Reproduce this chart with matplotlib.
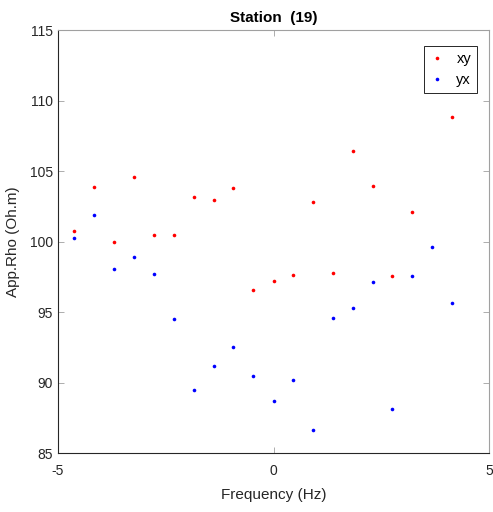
import numpy as np
import matplotlib
matplotlib.use('Agg')
import matplotlib.pyplot as plt

plt.rcParams['font.family'] = ['Liberation Sans', 'DejaVu Sans']
plt.rcParams['axes.unicode_minus'] = False

# frequency positions and apparent resistivity values
freq = [-4.62, -4.16, -3.69, -3.23, -2.77, -2.31, -1.85, -1.39, -0.93, -0.47,
        0.0, 0.45, 0.92, 1.37, 1.84, 2.30, 2.76, 3.22, 3.68, 4.15]
rho_xy = [100.76, 103.85, 100.0, 104.6, 100.5, 100.47, 103.17, 102.98, 103.83, 96.6,
          97.19, 97.64, 102.84, 97.78, 106.45, 103.92, 97.54, 102.13, np.nan, 108.82]
rho_yx = [100.23, 101.87, 98.06, 98.89, 97.73, 94.54, 89.45, 91.16, 92.53, 90.45,
          88.69, 90.21, 86.66, 94.6, 95.3, 97.14, 88.1, 97.54, 99.62, 95.65]

fig = plt.figure(figsize=(4.93, 5.12), dpi=100)
ax = fig.add_axes([0.1177, 0.1152, 0.8742, 0.8256])

ax.plot(freq, rho_xy, 'o', color='red', ms=2.6, mew=0, label='xy')
ax.plot(freq, rho_yx, 'o', color='blue', ms=2.6, mew=0, label='yx')

ax.set_xlim(-5, 5)
ax.set_ylim(85, 115)
ax.set_xticks([-5, 0, 5])
ax.set_yticks([85, 90, 95, 100, 105, 110, 115])

gray = '#262626'
for side in ['left', 'bottom']:
    ax.spines[side].set_color(gray)
for side in ['top', 'right']:
    ax.spines[side].set_color('#a0a0a0')
for s in ax.spines.values():
    s.set_linewidth(0.8)
ax.tick_params(direction='in', length=4, width=0.6, colors='#a0a0a0',
               labelcolor=gray, labelsize=10, top=True, right=True)
ax.tick_params(axis='x', pad=8)

ax.set_title('Station  (19)', fontsize=11, fontweight='bold', color='black', pad=6)
ax.set_xlabel('Frequency (Hz)', fontsize=11, color=gray, labelpad=7)
ax.set_ylabel('App.Rho (Oh.m)', fontsize=11, color=gray, labelpad=7)

leg = ax.legend(loc='upper right', bbox_to_anchor=(0.972, 0.963), borderaxespad=0,
                fontsize=10.5, fancybox=False, framealpha=1, edgecolor=gray,
                handlelength=0.9, handletextpad=0.9, borderpad=0.4, labelspacing=0.5)
leg.get_frame().set_linewidth(0.7)

fig.savefig('out.png', dpi=100)
